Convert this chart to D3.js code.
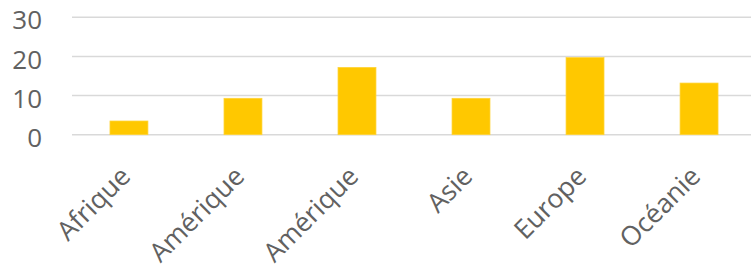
<!DOCTYPE html>
<html>
<head>
    <title>continents</title>
</head>
<meta charset="utf-8">
<style type="text/css">
    html, body {
        margin: 0;
        background: #fff;
    }
    text {
        font-family: "Open Sans", sans-serif;
        fill: #616161;
    }
</style>
<body>
<svg id="chart" width="751" height="266"></svg>

<script src="https://cdn.jsdelivr.net/npm/d3@7"></script>
<script>
    "use strict";

    const categories = ["Afrique", "Amérique", "Amérique", "Asie", "Europe", "Océanie"];
    const values = [3.5, 9.3, 17.2, 9.3, 19.7, 13.2];
    const yTicks = [0, 10, 20, 30];

    const svg = d3.select("#chart"),
        plotLeft = 72,
        plotRight = 756,
        plotTop = 17.3,
        plotBottom = 134.7;

    const x = d3.scaleBand()
        .domain(d3.range(categories.length))
        .range([plotLeft, plotRight])
        .paddingInner(0.667)
        .paddingOuter(0.333);

    const y = d3.scaleLinear()
        .domain([0, 30])
        .range([plotBottom, plotTop]);

    // gridlines
    svg.append("g")
        .selectAll("line")
        .data(yTicks)
        .enter().append("line")
        .attr("x1", plotLeft)
        .attr("x2", 751)
        .attr("y1", d => y(d))
        .attr("y2", d => y(d))
        .attr("stroke", "#d9d9d9")
        .attr("stroke-width", 1.5);

    // y labels
    svg.append("g")
        .selectAll("text")
        .data(yTicks)
        .enter().append("text")
        .attr("x", 42)
        .attr("y", d => y(d) + 3)
        .attr("dy", "0.35em")
        .attr("text-anchor", "end")
        .attr("font-size", 26)
        .text(d => d);

    // bars
    svg.append("g")
        .selectAll("rect")
        .data(values)
        .enter().append("rect")
        .attr("x", (d, i) => x(i))
        .attr("width", x.bandwidth())
        .attr("y", d => y(d))
        .attr("height", d => y(0) - y(d))
        .attr("fill", "#ffc800")
        .attr("stroke", "#ffd43a")
        .attr("stroke-width", 0.75);

    // x labels
    svg.append("g")
        .selectAll("text")
        .data(categories)
        .enter().append("text")
        .attr("transform", (d, i) =>
            "translate(" + (x(i) + x.bandwidth() / 2 + 3) + ",178) rotate(-45)")
        .attr("text-anchor", "end")
        .attr("font-size", 26.5)
        .text(d => d);
</script>
</body>
</html>
